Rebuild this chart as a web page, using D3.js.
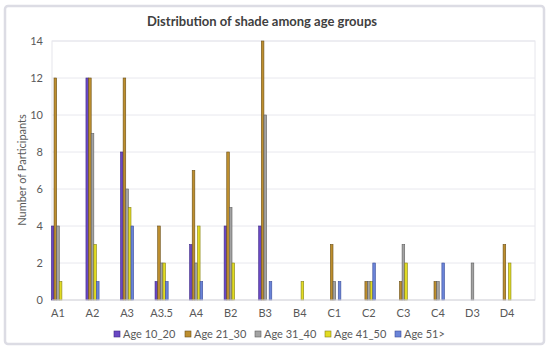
<!DOCTYPE html>
<html><head><meta charset="utf-8">
<script src="https://cdn.jsdelivr.net/npm/d3@7"></script>
<style>
body{margin:0;background:#fff;}
text{font-family:Lato,"Open Sans",sans-serif;}
</style></head>
<body>
<svg id="chart" width="550" height="354"></svg>
<script>
const categories = ["A1","A2","A3","A3.5","A4","B2","B3","B4","C1","C2","C3","C4","D3","D4"];
const seriesNames = ["Age 10_20","Age 21_30","Age 31_40","Age 41_50","Age 51>"];
const age10_20 = [4,12,8,1,3,4,4,0,0,0,0,0,0,0];
const age21_30 = [12,12,12,4,7,8,14,0,3,1,1,1,0,3];
const age31_40 = [4,9,6,2,2,5,10,0,1,1,3,1,2,0];
const age41_50 = [1,3,5,2,4,2,0,1,0,1,2,0,0,2];
const age51 = [0,1,4,1,1,0,1,0,1,2,0,2,0,0];
const yTicks = [0,2,4,6,8,10,12,14];
const seriesValues = [age10_20, age21_30, age31_40, age41_50, age51];
const fills = ["#6A48C4","#BD8E2E","#A3A3A3","#E2DC22","#6A84D8"];
const strokes = ["#3E2A86","#6B5018","#5E5E5E","#85801A","#3C4E9A"];

const svg = d3.select("#chart");
// outer frame
svg.append("rect").attr("x",5).attr("y",6).attr("width",539).attr("height",338)
  .attr("rx",3).attr("fill","#fff").attr("stroke","#dcdce4").attr("stroke-width",2.5);

const plotL = 52, plotR = 535, plotT = 41, plotB = 300;
const x0 = d3.scaleBand().domain(categories).range([40.7, 524.3]).paddingInner(0.62).paddingOuter(0.31);
const x1 = d3.scaleBand().domain(seriesNames).range([0, x0.bandwidth()]);
const y = d3.scaleLinear().domain([0,14]).range([plotB, plotT]);

// plot area border
svg.append("rect").attr("x",plotL).attr("y",plotT).attr("width",plotR-plotL).attr("height",plotB-plotT)
  .attr("fill","none").attr("stroke","#e6e6ec").attr("stroke-width",1);

// gridlines
svg.append("g").selectAll("line").data(yTicks.filter(t=>t>0)).join("line")
  .attr("x1",plotL).attr("x2",plotR).attr("y1",d=>y(d)).attr("y2",d=>y(d))
  .attr("stroke","#e8e8ee").attr("stroke-width",1);

// y axis labels
const yAxis = d3.axisLeft(y).tickValues(yTicks).tickSize(0).tickPadding(0);
const gy = svg.append("g").attr("transform","translate(43,0)").call(yAxis);
gy.select(".domain").remove();
gy.selectAll("text").attr("font-size",11).attr("fill","#595959").attr("font-family","Lato");

// bars
const data = [];
categories.forEach((c,i)=>seriesNames.forEach((s,j)=>data.push({c,s,j,v:seriesValues[j][i]})));
svg.append("g").selectAll("rect").data(data.filter(d=>d.v>0)).join("rect")
  .attr("x",d=>x0(d.c)+x1(d.s))
  .attr("y",d=>y(d.v))
  .attr("width",x1.bandwidth())
  .attr("height",d=>y(0)-y(d.v))
  .attr("fill",d=>fills[d.j]).attr("stroke",d=>strokes[d.j]).attr("stroke-width",0.6);

// x axis line
svg.append("line").attr("x1",plotL).attr("x2",plotR).attr("y1",plotB).attr("y2",plotB)
  .attr("stroke","#d6d6dc").attr("stroke-width",1);

// x labels
const xAxis = d3.axisBottom(x0).tickSize(0).tickPadding(0);
const gx = svg.append("g").attr("transform",`translate(0,${plotB+9})`).call(xAxis);
gx.select(".domain").remove();
gx.selectAll("text").attr("font-size",11).attr("fill","#595959").attr("font-family","Lato");

// title
svg.append("text").attr("x",262).attr("y",26).attr("text-anchor","middle")
  .attr("font-size",13).attr("font-weight","bold").attr("fill","#404040")
  .text("Distribution of shade among age groups");

// y title
svg.append("text").attr("transform","translate(26,170) rotate(-90)").attr("text-anchor","middle")
  .attr("font-size",11).attr("fill","#595959").text("Number of Participants");

// legend
const legX = [114,185,255,325,395];
const lg = svg.append("g").selectAll("g").data(seriesNames).join("g")
  .attr("transform",(d,i)=>`translate(${legX[i]},334)`);
lg.append("rect").attr("x",0).attr("y",-3).attr("width",6).attr("height",6)
  .attr("fill",(d,i)=>fills[i]).attr("stroke",(d,i)=>strokes[i]).attr("stroke-width",0.6);
lg.append("text").attr("x",9).attr("y",4).attr("font-size",11).attr("fill","#595959").text(d=>d);
</script>
</body></html>
